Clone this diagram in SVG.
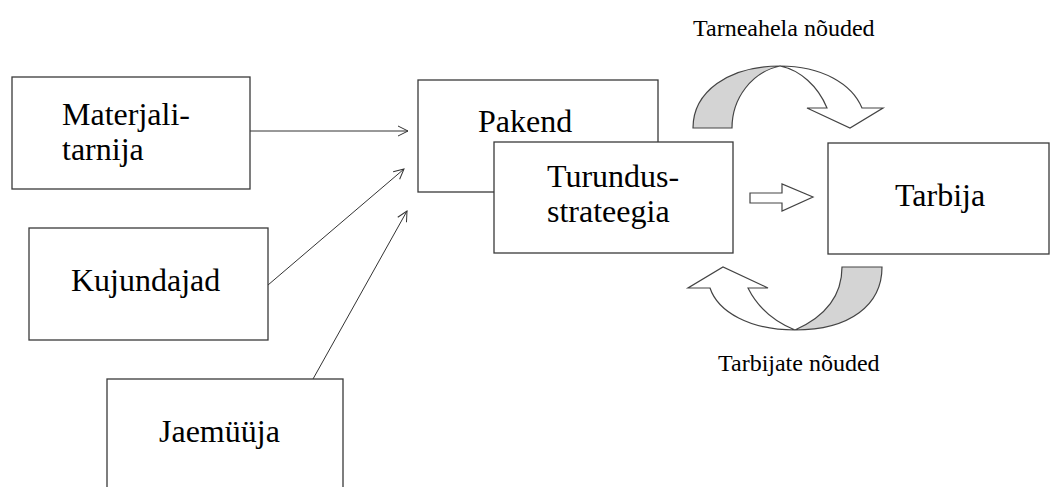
<svg xmlns="http://www.w3.org/2000/svg" width="1052" height="487" viewBox="0 0 1052 487">
<style>
.box{fill:#fff;stroke:#3a3a3a;stroke-width:1.3}
.t{font-family:"Liberation Serif","Times New Roman",serif;font-size:32px;fill:#000}
.lbl{font-family:"Liberation Serif","Times New Roman",serif;font-size:24px;fill:#000}
.con{stroke:#333;stroke-width:1;fill:none}
.shape{stroke:#444;stroke-width:1.2;stroke-linejoin:miter}
</style>
<defs>
<marker id="open" viewBox="0 0 12 12" refX="11" refY="6" markerWidth="12" markerHeight="12" markerUnits="userSpaceOnUse" orient="auto">
<path d="M1,1 L11,6 L1,11" fill="none" stroke="#333" stroke-width="1"/>
</marker>
</defs>
<rect x="0" y="0" width="1052" height="487" fill="#fff"/>
<g id="connectors">
<line class="con" x1="250" y1="131" x2="408" y2="131" marker-end="url(#open)"/>
<line class="con" x1="268" y1="285" x2="404" y2="169" marker-end="url(#open)"/>
<line class="con" x1="313" y1="379" x2="407" y2="211" marker-end="url(#open)"/>
<path id="block-arrow" class="shape" fill="#fff" d="M750,193 L782,193 L782,184 L813,197 L782,211 L782,203 L750,203 Z"/>
</g>
<g id="materjali">
<rect class="box" x="12" y="77" width="238" height="112"/>
<text class="t" x="62" y="125">Materjali-</text>
<text class="t" x="62" y="160">tarnija</text>
</g>
<g id="kujundajad">
<rect class="box" x="29" y="228" width="239" height="112"/>
<text class="t" x="71" y="291">Kujundajad</text>
</g>
<g id="jaemyyja">
<rect class="box" x="107" y="379" width="236" height="130"/>
<text class="t" x="159" y="442">Jaemüüja</text>
</g>
<g id="pakend">
<rect class="box" x="418" y="80" width="240" height="112"/>
<text class="t" x="478" y="132">Pakend</text>
</g>
<g id="turundus">
<rect class="box" x="494" y="142" width="239" height="111"/>
<text class="t" x="547" y="187">Turundus-</text>
<text class="t" x="547" y="222">strateegia</text>
</g>
<g id="tarbija">
<rect class="box" x="828" y="143" width="221" height="111"/>
<text class="t" x="895" y="206">Tarbija</text>
</g>
<g id="tarneahela">
<path class="shape" fill="#d4d4d4" d="M693,128 C693,92 728,66 780,66 C752,72 732,98 732,128 Z"/>
<path class="shape" fill="#fff" d="M780,66 C822,66 852,84 862,108 L883,108 L850,128 L807,108 L827,108 C818,86 800,70 780,66 Z"/>
<text class="lbl" x="693" y="36">Tarneahela nõuded</text>
</g>
<g id="tarbijate">
<path class="shape" fill="#d4d4d4" d="M842,267 L882,267 C882,305 850,330 795,330 C822,318 842,298 842,267 Z"/>
<path class="shape" fill="#fff" d="M795,330 C750,330 718,312 710,288 L688,288 L723,267 L768,288 L748,288 C758,308 775,322 795,330 Z"/>
<text class="lbl" x="718" y="371">Tarbijate nõuded</text>
</g>
</svg>
